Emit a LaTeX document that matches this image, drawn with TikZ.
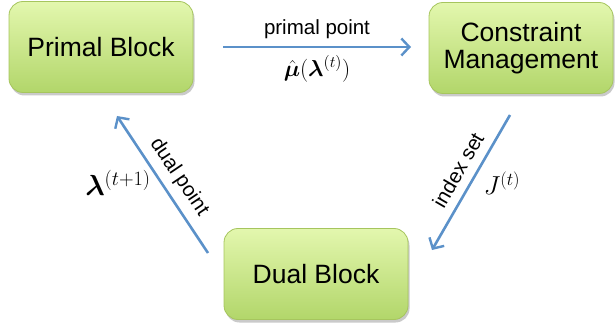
\RequirePackage{fix-cm}
\documentclass[tikz,border=0pt]{standalone}
\usepackage{amsmath,bm}
\usepackage{fontspec}
\setmainfont{Liberation Sans}
\usetikzlibrary{arrows.meta,shadows,positioning}
\definecolor{boxtop}{HTML}{E3F7AE}
\definecolor{boxbot}{HTML}{B2D66A}
\definecolor{boxline}{HTML}{A6C55E}
\definecolor{arrowblue}{HTML}{5B91C9}
\tikzset{
  block/.style={draw=boxline, line width=0.8pt, rounded corners=14pt,
    top color=boxtop, bottom color=boxbot, minimum width=184pt, minimum height=91pt,
    align=center, font=\fontsize{26.5}{30}\selectfont,
    drop shadow={shadow xshift=1.5pt, shadow yshift=-3pt, opacity=0.35, fill=black!60}},
  flow/.style={draw=arrowblue, line width=2.6pt, -{Straight Barb[length=8pt,width=17pt,line width=2.4pt]}},
  lbl/.style={font=\fontsize{20.5}{24}\selectfont},
  mlbl/.style={font=\fontsize{23}{26}\selectfont}
}
\begin{document}
\begin{tikzpicture}[x=1pt,y=1pt]
\useasboundingbox (0,0) rectangle (616,327);
\node[block] (primal) at (101,280) {Primal Block};
\node[block] (cons) at (521,279) {Constraint\\[-3pt]Management};
\node[block] (dual) at (316,53) {Dual Block};
\coordinate (a1s) at (223,280);
\coordinate (a1e) at (411,280);
\draw[flow] (a1s) -- (a1e);
\node[lbl] (pp) at (317,298) {primal point};
\node[mlbl] (ppm) at (317,258) {$\hat{\bm{\mu}}(\bm{\lambda}^{(t)})$};
\coordinate (a2s) at (510,212);
\coordinate (a2e) at (432,77);
\draw[flow] (a2s) -- (a2e);
\node[lbl, rotate=60] (is) at (458,157) {index set};
\node[mlbl, font=\fontsize{26}{30}\selectfont] (jt) at (502,144) {$J^{(t)}$};
\coordinate (a3s) at (208,74);
\coordinate (a3e) at (117,211);
\draw[flow] (a3s) -- (a3e);
\node[lbl, rotate=-56] (dp) at (179,150) {dual point};
\node[mlbl, font=\fontsize{29}{33}\selectfont] (lt) at (118,144) {$\bm{\lambda}^{(t+1)}$};
\end{tikzpicture}
\end{document}
